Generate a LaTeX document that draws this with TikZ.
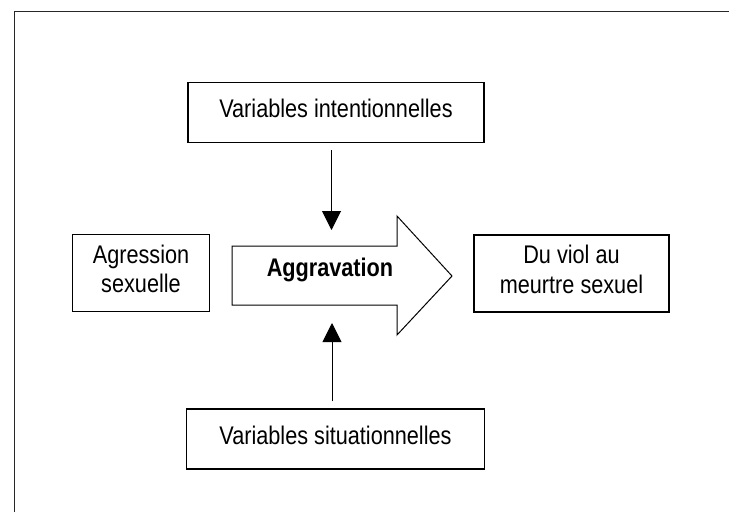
\documentclass[tikz,border=0pt]{standalone}
\usepackage{fontspec}
\setmainfont{Liberation Sans}[FakeStretch=0.85]
\usetikzlibrary{arrows.meta}

\tikzset{
	box/.style={draw, line width=1.2pt, inner sep=0pt, align=center, text depth=8pt, font=\fontsize{25.5}{29.5}\selectfont},
	flow/.style={line width=1pt, -{Triangle[width=19pt,length=19pt]}}
}

\begin{document}
\begin{tikzpicture}[x=1pt,y=-1pt]
	\useasboundingbox (0,0) rectangle (729,512);
	\draw [line width=0.8pt, black!85] (14,512) -- (14,11) -- (729,11);

	\node [box, minimum width=296pt, minimum height=60pt] (intent) at (336,112.5) {Variables intentionnelles};
	\node [box, minimum width=137pt, minimum height=77pt] (agress) at (141,273) {Agression\\sexuelle};
	\node [box, minimum width=195pt, minimum height=77pt] (meurtre) at (571.5,273.5) {Du viol au\\meurtre sexuel};
	\node [box, minimum width=298pt, minimum height=60pt] (situ) at (335.5,439) {Variables situationnelles};

	% big arrow
	\draw [line width=1pt, line join=miter]
	(232,246) -- (397,246) -- (397,216) -- (452,276) -- (397,335) -- (397,305) -- (232,305) -- cycle;
	\node [anchor=base, inner sep=0pt, font=\fontsize{25.5}{29.5}\selectfont\bfseries] (aggr) at (330,276) {Aggravation};

	\coordinate (downtip) at (331.5,230);
	\coordinate (uptip) at (332,323);

	\draw [flow, shorten <=7pt] (intent.south -| downtip) -- (downtip);
	\draw [flow, shorten <=7pt] (situ.north -| uptip) -- (uptip);
\end{tikzpicture}
\end{document}
